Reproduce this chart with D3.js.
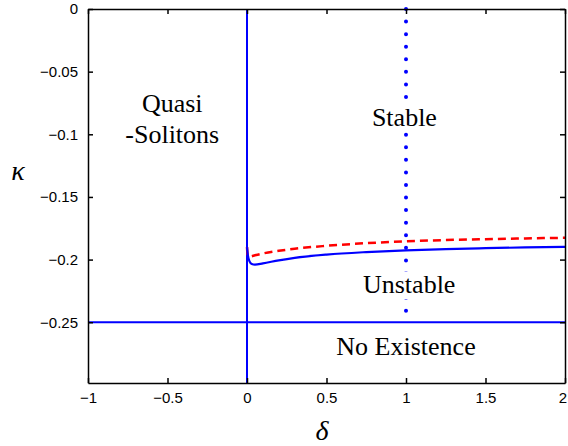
<!DOCTYPE html>
<html>
<head>
<meta charset="utf-8">
<script src="https://cdn.jsdelivr.net/npm/d3@7"></script>
<style>
  html, body { margin: 0; padding: 0; background: #fff; }
  svg { display: block; }
  .serif { font-family: "Liberation Serif", "DejaVu Serif", "Times New Roman", serif; }
  .sans { font-family: "Liberation Sans", Arial, Helvetica, sans-serif; }
</style>
</head>
<body>
<script>
const width = 568;
const height = 446;
const margin = { top: 9, right: 3, bottom: 63, left: 88 };

// data
const xTicks = [-1, -0.5, 0, 0.5, 1, 1.5, 2];
const yTicks = [0, -0.05, -0.1, -0.15, -0.2, -0.25];
const deltaStable = [0, 0.005, 0.015, 0.03, 0.05, 0.1, 0.2, 0.3, 0.5, 0.75, 1, 1.25, 1.5, 1.75, 2];
const kappaStable = [-0.19, -0.196, -0.2012, -0.2035, -0.204, -0.203, -0.2006, -0.1986, -0.196, -0.194, -0.1926, -0.1916, -0.1909, -0.1903, -0.1898];
const deltaDashed = [0, 0.005, 0.02, 0.05, 0.1, 0.2, 0.3, 0.5, 0.75, 1, 1.25, 1.5, 1.75, 2];
const kappaDashed = [-0.19, -0.197, -0.1975, -0.1966, -0.1951, -0.193, -0.1913, -0.189, -0.1869, -0.1854, -0.1844, -0.1837, -0.1831, -0.1826];
const boundaryDelta = 0;      // vertical solid line
const noExistKappa = -0.25;   // horizontal solid line
const dottedDelta = 1;        // vertical dotted line

const regionLabels = [
  { lines: ["Quasi", "-Solitons"], x: -0.47, y: -0.082, bg: false },
  { lines: ["Stable"], x: 0.99, y: -0.093, bg: true },
  { lines: ["Unstable"], x: 1.02, y: -0.227, bg: true },
  { lines: ["No Existence"], x: 1.0, y: -0.276, bg: false }
];

const x = d3.scaleLinear().domain([-1, 2]).range([margin.left, width - margin.right]);
const y = d3.scaleLinear().domain([-0.2985, 0]).range([height - margin.bottom, margin.top]);

const svg = d3.select("body").append("svg")
  .attr("width", width)
  .attr("height", height);

const blue = "#0000ff";
const red = "#ff0000";

// dotted line at delta = 1 (under the text boxes)
svg.append("line")
  .attr("x1", x(dottedDelta)).attr("x2", x(dottedDelta))
  .attr("y1", y(0)).attr("y2", y(noExistKappa) + 1)
  .attr("stroke", blue)
  .attr("stroke-width", 4)
  .attr("stroke-linecap", "round")
  .attr("stroke-dasharray", "0 12.57");

// region labels
regionLabels.forEach(d => {
  const g = svg.append("g");
  const t = g.append("text")
    .attr("class", "serif")
    .attr("x", x(d.x))
    .attr("y", y(d.y))
    .attr("text-anchor", "middle")
    .attr("font-size", 26)
    .attr("fill", "#000");
  d.lines.forEach((s, i) => {
    t.append("tspan").attr("x", x(d.x)).attr("dy", i === 0 ? 0 : 31).text(s);
  });
  if (d.bg) {
    const b = t.node().getBBox();
    g.insert("rect", "text")
      .attr("x", b.x - 2).attr("y", b.y + 1)
      .attr("width", b.width + 4).attr("height", b.height - 1)
      .attr("fill", "#fff");
  }
});

// solid boundary lines
svg.append("line")
  .attr("x1", x(boundaryDelta)).attr("x2", x(boundaryDelta))
  .attr("y1", y.range()[0]).attr("y2", y.range()[1])
  .attr("stroke", blue).attr("stroke-width", 2);

svg.append("line")
  .attr("x1", x.range()[0]).attr("x2", x.range()[1])
  .attr("y1", y(noExistKappa)).attr("y2", y(noExistKappa))
  .attr("stroke", blue).attr("stroke-width", 2);

const line = d3.line()
  .x(d => x(d[0]))
  .y(d => y(d[1]))
  .curve(d3.curveMonotoneX);

svg.append("path")
  .datum(d3.zip(deltaDashed, kappaDashed))
  .attr("d", line)
  .attr("fill", "none")
  .attr("stroke", red)
  .attr("stroke-width", 2.5)
  .attr("stroke-dasharray", "8 5");

svg.append("path")
  .datum(d3.zip(deltaStable, kappaStable))
  .attr("d", line)
  .attr("fill", "none")
  .attr("stroke", blue)
  .attr("stroke-width", 2.2);

// axes, MATLAB style box with inward ticks
const fmt = d3.format("~g");
const tickLen = 5;

const axisBottom = d3.axisBottom(x).tickValues(xTicks).tickFormat(fmt).tickSizeInner(-tickLen).tickSizeOuter(0).tickPadding(9);
const axisTop = d3.axisTop(x).tickValues(xTicks).tickFormat("").tickSizeInner(-tickLen).tickSizeOuter(0);
const axisLeft = d3.axisLeft(y).tickValues(yTicks).tickFormat(fmt).tickSizeInner(-tickLen).tickSizeOuter(0).tickPadding(10);
const axisRight = d3.axisRight(y).tickValues(yTicks).tickFormat("").tickSizeInner(-tickLen).tickSizeOuter(0);

function style(g) {
  g.attr("font-family", null).attr("font-size", null);
  g.selectAll("path, line").attr("stroke", "#000").attr("stroke-width", 1.5);
  g.selectAll("text").attr("class", "sans").attr("font-size", 15).attr("fill", "#000");
}

// last x label sits at the window edge, keep it inside
svg.append("g").attr("transform", `translate(0,${y.range()[0]})`).call(axisBottom).call(style)
  .selectAll(".tick:last-of-type text").attr("text-anchor", "end").attr("dx", 1.5);
svg.append("g").attr("transform", `translate(0,${y.range()[1]})`).call(axisTop).call(style);
svg.append("g").attr("transform", `translate(${x.range()[0]},0)`).call(axisLeft).call(style);
svg.append("g").attr("transform", `translate(${x.range()[1]},0)`).call(axisRight).call(style);

// axis titles
svg.append("text")
  .attr("class", "serif")
  .attr("x", 18).attr("y", 180)
  .attr("text-anchor", "middle")
  .attr("font-style", "italic")
  .attr("font-size", 28)
  .text("κ");

svg.append("text")
  .attr("class", "serif")
  .attr("x", 322).attr("y", 440)
  .attr("text-anchor", "middle")
  .attr("font-style", "italic")
  .attr("font-size", 28)
  .text("δ");
</script>
</body>
</html>
